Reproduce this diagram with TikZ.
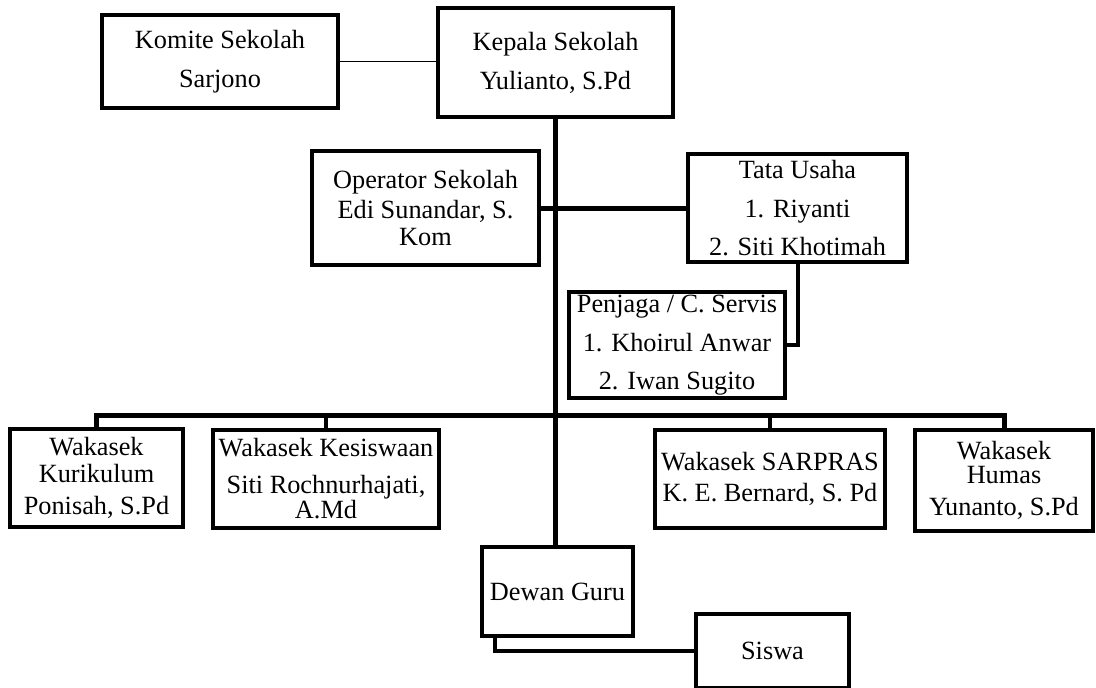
\documentclass[tikz,border=0pt]{standalone}
\usepackage{fontspec}
\setmainfont{Liberation Serif}
\usetikzlibrary{calc}

\begin{document}
\begin{tikzpicture}[x=1pt,y=-1pt,
    orgbox/.style={rectangle,draw,line width=4pt,align=center,inner sep=2pt,
        font=\fontsize{26.3}{27}\selectfont},
    link/.style={line width=5pt},
    thinlink/.style={line width=1.5pt}]
    \useasboundingbox (0,0) rectangle (1096,688);

    % nodes
    \node (komite) at (220,61.5) [orgbox,minimum width=236pt,minimum height=93pt] {Komite Sekolah\\[12pt]Sarjono};
    \node (kepala) at (555.5,62.5) [orgbox,minimum width=235pt,minimum height=109pt] {Kepala Sekolah\\[12pt]Yulianto, S.Pd};
    \node (operator) at (425.5,208) [orgbox,minimum width=227pt,minimum height=114pt] {Operator Sekolah\\[3pt]Edi Sunandar, S.\\Kom};
    \node (tata) at (797.5,208) [orgbox,minimum width=219pt,minimum height=108pt] {Tata Usaha\\[12pt]1. Riyanti\\[11pt]2. Siti Khotimah};
    \node (penjaga) at (677,345) [orgbox,minimum width=216pt,minimum height=106pt] {Penjaga / C. Servis\\[12pt]1. Khoirul Anwar\\[11pt]2. Iwan Sugito};
    \node (kurikulum) at (96.5,478) [orgbox,minimum width=173pt,minimum height=98pt] {Wakasek\\Kurikulum\\[5pt]Ponisah, S.Pd};
    \node (kesiswaan) at (326,479) [orgbox,minimum width=226pt,minimum height=98pt] {Wakasek Kesiswaan\\[10pt]Siti Rochnurhajati,\\[-2pt]A.Md};
    \node (sarpras) at (770,479) [orgbox,minimum width=230pt,minimum height=98pt] {Wakasek SARPRAS\\[4pt]K. E. Bernard, S. Pd};
    \node (humas) at (1004,480.5) [orgbox,minimum width=178pt,minimum height=101pt] {Wakasek\\[-3pt]Humas\\[5pt]Yunanto, S.Pd};
    \node (dewan) at (557.5,591.5) [orgbox,minimum width=151pt,minimum height=89pt] {Dewan Guru};
    \node (siswa) at (772.5,651) [orgbox,minimum width=153pt,minimum height=74pt] {Siswa};
    \coordinate (bus) at (555.5,415);

    % paths
    \draw[thinlink] (komite.east) -- (komite.east -| kepala.west); % komite -> kepala
    \draw[link] (kepala.south) -- (kepala.south |- dewan.north); % trunk
    \draw[link] (operator.east) -- (tata.west); % operator -> tata usaha
    \draw[line width=4pt] (tata.south) |- (penjaga.east); % tata usaha -> penjaga
    \draw[link] (kurikulum.north) |- (bus) -| (humas.north); % wakasek bus
    \draw[line width=4pt] (kesiswaan.north) -- (kesiswaan.north |- bus);
    \draw[line width=4pt] (sarpras.north) -- (sarpras.north |- bus);
    \draw[line width=4.5pt] ($(dewan.south west)+(15,0)$) |- (siswa.west); % dewan -> siswa

\end{tikzpicture}
\end{document}
